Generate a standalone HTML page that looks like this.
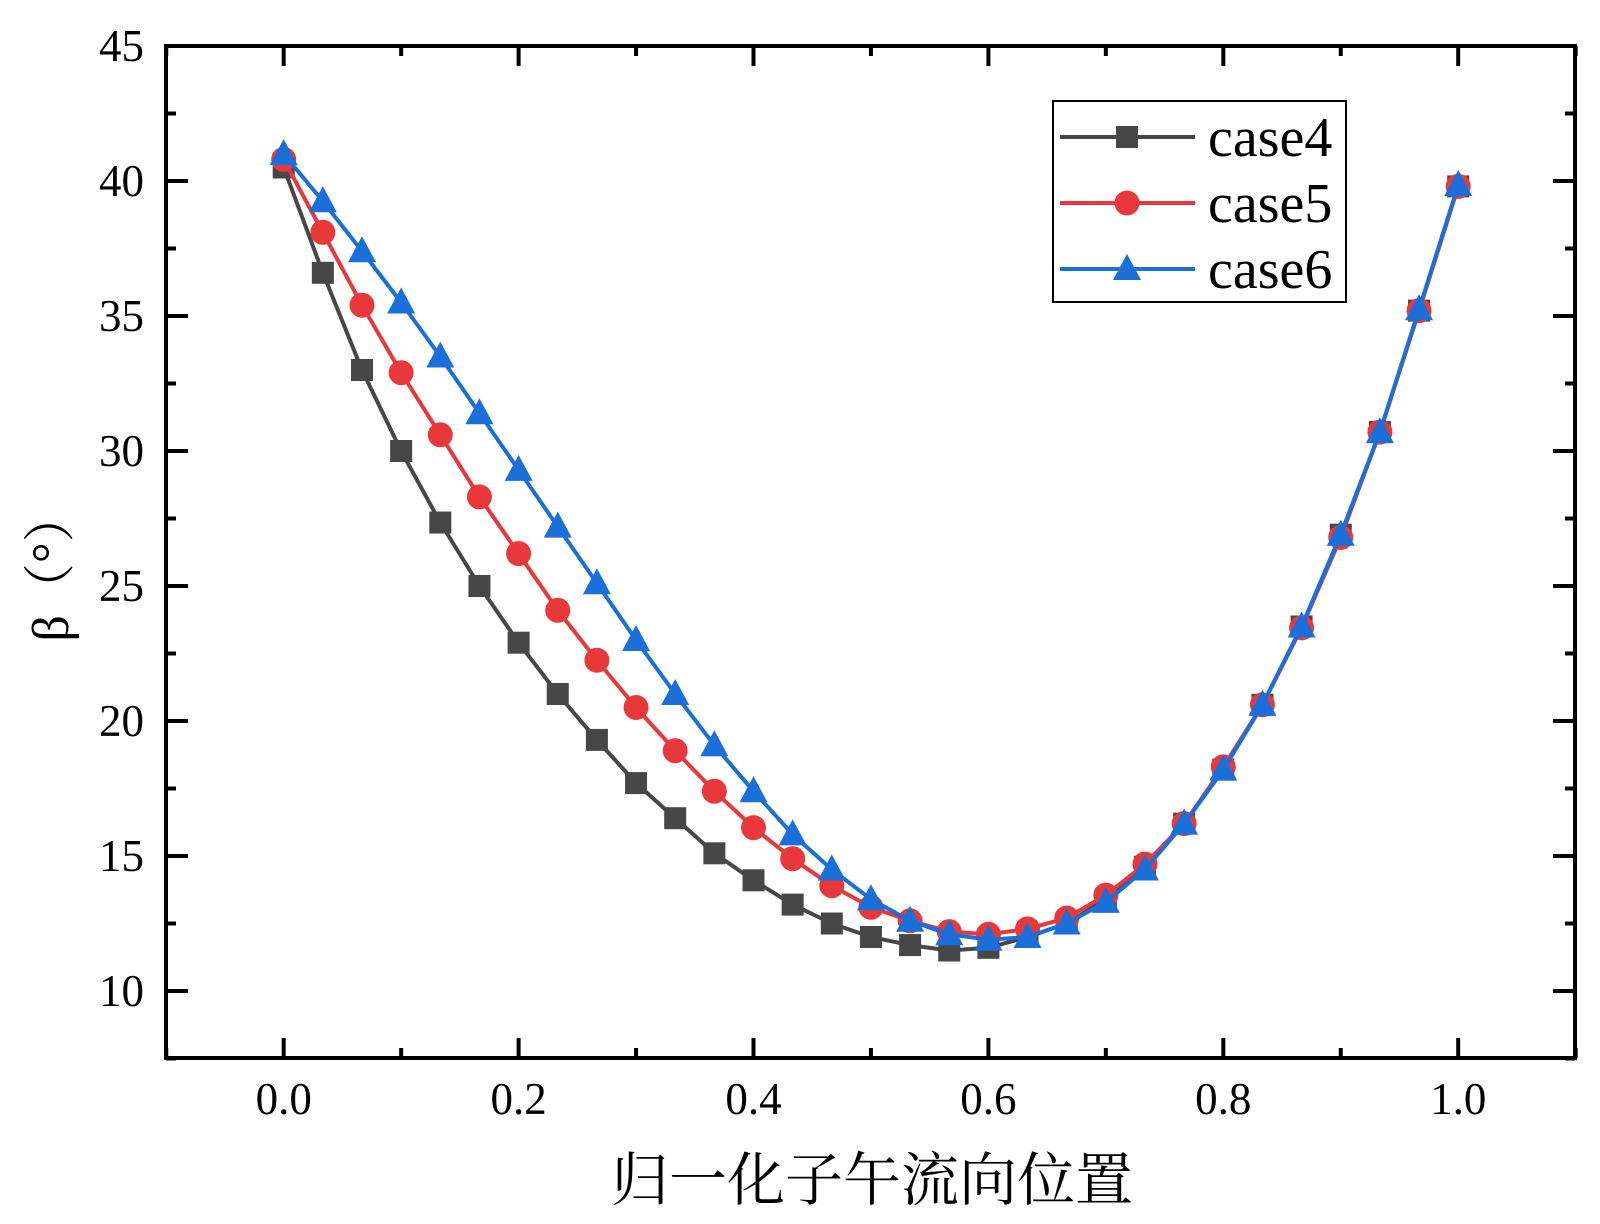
<!DOCTYPE html>
<html><head><meta charset="utf-8"><style>
html,body{margin:0;padding:0;background:#fff;}
svg{display:block;font-family:"Liberation Serif","Noto Serif CJK SC",serif;}
</style></head><body>
<svg id="chart" width="1600" height="1224" viewBox="0 0 1600 1224">
<g id="grid"></g>
<g id="series"></g>
<rect x="166" y="46" width="1409" height="1012" fill="none" stroke="#000" stroke-width="4"/>
<text x="872" y="1200" font-size="58" text-anchor="middle" font-family="'Noto Serif CJK SC','Liberation Serif',serif">归一化子午流向位置</text>
<text transform="translate(68,566) rotate(-90)" font-size="52" text-anchor="middle" font-family="'Liberation Serif','Noto Serif CJK SC',serif">β（°）</text>
<g>
<rect x="1053" y="101" width="293" height="201" fill="#fff" stroke="#000" stroke-width="2"/>
<g id="legend"></g>
</g>
</svg>
<script>
const xValues=[0,1/30,2/30,3/30,4/30,5/30,6/30,7/30,8/30,9/30,10/30,11/30,12/30,13/30,14/30,15/30,16/30,17/30,18/30,19/30,20/30,21/30,22/30,23/30,24/30,25/30,26/30,27/30,28/30,29/30,1];
const case4=[40.5,36.6,33.0,30.0,27.35,25.0,22.9,21.0,19.3,17.7,16.4,15.1,14.1,13.2,12.5,12.0,11.7,11.5,11.6,12.0,12.5,13.4,14.6,16.2,18.2,20.6,23.5,26.9,30.7,35.2,39.8];
const case5=[40.8,38.1,35.4,32.9,30.6,28.3,26.2,24.1,22.25,20.5,18.9,17.4,16.05,14.9,13.9,13.1,12.6,12.2,12.1,12.3,12.7,13.55,14.7,16.2,18.3,20.6,23.45,26.8,30.7,35.2,39.8];
const case6=[41.0,39.25,37.4,35.5,33.5,31.4,29.3,27.2,25.1,23.0,21.0,19.1,17.4,15.8,14.5,13.4,12.6,12.1,11.9,12.0,12.5,13.3,14.5,16.2,18.2,20.6,23.5,26.9,30.7,35.25,39.85];
const xTicks=[0,0.2,0.4,0.6,0.8,1.0];
const xTickLabels=["0.0","0.2","0.4","0.6","0.8","1.0"];
const yTicks=[10,15,20,25,30,35,40,45];
const yTickLabels=["10","15","20","25","30","35","40","45"];
const seriesNames=["case4","case5","case6"];

const NS="http://www.w3.org/2000/svg";
const X=v=>283.7+(v-0)*(1458.2-283.7);
const Y=v=>991-(v-10)*(991-46)/35;
const L=166,R=1575,T=46,B=1058;
function mk(tag,attrs,parent){const e=document.createElementNS(NS,tag);for(const k in attrs)e.setAttribute(k,attrs[k]);parent.appendChild(e);return e;}
const grid=document.getElementById('grid');
for(let i=0;i<xTicks.length;i++){
  const x=X(xTicks[i]);
  const t=mk('line',{x1:x,x2:x,y1:B,y2:B-20,stroke:'#000','stroke-width':4},grid);
  
  
  const t2=mk('line',{x1:x,x2:x,y1:T,y2:T+20,stroke:'#000','stroke-width':4},grid);
  
  
  const lb=mk('text',{x:x,y:1114,'font-size':45,'text-anchor':'middle'},grid);
  lb.textContent=xTickLabels[i];
  
  
}
for(let v=-0.1;v<=1.101;v+=0.2){
  const x=X(v);
  const m=mk('line',{x1:x,x2:x,y1:B,y2:B-10,stroke:'#000','stroke-width':4},grid);
  
  
  const m2=mk('line',{x1:x,x2:x,y1:T,y2:T+10,stroke:'#000','stroke-width':4},grid);
  
  
}
for(let i=0;i<yTicks.length;i++){
  const y=Y(yTicks[i]);
  const t=mk('line',{x1:L,x2:L+22,y1:y,y2:y,stroke:'#000','stroke-width':4},grid);
  
  
  const t2=mk('line',{x1:R,x2:R-22,y1:y,y2:y,stroke:'#000','stroke-width':4},grid);
  
  
  const lb=mk('text',{x:144,y:y+15,'font-size':45,'text-anchor':'end'},grid);
  lb.textContent=yTickLabels[i];
  
  
}
for(let v=7.5;v<45;v+=5){
  const y=Y(v);
  const m=mk('line',{x1:L,x2:L+10,y1:y,y2:y,stroke:'#000','stroke-width':4},grid);
  
  
  const m2=mk('line',{x1:R,x2:R-10,y1:y,y2:y,stroke:'#000','stroke-width':4},grid);
  
  
}
const colors=["#474747","#e8383b","#1a6fd8"];
const shapes=["square","circle","triangle"];
function marker(g,shape,x,y,c){
  let e;
  if(shape==='square')e=mk('rect',{x:x-11,y:y-11,width:22,height:22,fill:c},g);
  else if(shape==='circle')e=mk('circle',{cx:x,cy:y,r:12.5,fill:c},g);
  else e=mk('polygon',{points:`${x},${y-15} ${x-14},${y+11} ${x+14},${y+11}`,fill:c},g);
  return e;
}
const sg=document.getElementById('series');
[case4,case5,case6].forEach((data,si)=>{
  const g=mk('g',{},sg);
  
  
  const pts=data.map((v,i)=>X(xValues[i])+','+Y(v)).join(' ');
  const pl=mk('polyline',{points:pts,fill:'none',stroke:colors[si],'stroke-width':4,'stroke-linejoin':'round'},g);
  
  
  data.forEach((v,i)=>{
    const m=marker(g,shapes[si],X(xValues[i]),Y(v),colors[si]);
    
    
  });
});
const lg=document.getElementById('legend');
seriesNames.forEach((n,i)=>{
  const y=137+i*66;
  const ln=mk('line',{x1:1060,x2:1195,y1:y,y2:y,stroke:colors[i],'stroke-width':4},lg);
  
  
  const m=marker(lg,shapes[i],1127,y,colors[i]);
  
  
  const t=mk('text',{x:1208,y:y+19,'font-size':56},lg);
  t.textContent=n;
  
  
});
</script>
</body></html>
